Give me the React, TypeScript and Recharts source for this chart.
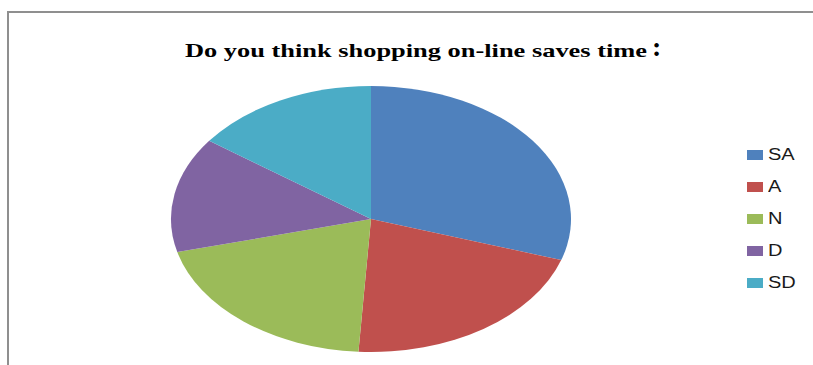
import React from 'react';
import { PieChart, Pie, Cell, Legend } from 'recharts';

const categories = ['SA', 'A', 'N', 'D', 'SD'];
const values = [30, 21, 20, 14, 15];
const colors = ['#4F81BD', '#C0504D', '#9BBB59', '#8064A2', '#4BACC6'];
const title = 'Do you think shopping on-line saves time';

const data = categories.map((name, i) => ({ name, value: values[i] }));

const X_STRETCH = 200 / 133;

const EllipseSector = (props: any) => {
  const { cx, cy, outerRadius, startAngle, endAngle, fill } = props;
  const ry = outerRadius;
  const rx = outerRadius * X_STRETCH;
  const rad = Math.PI / 180;
  const x1 = cx + rx * Math.cos(startAngle * rad);
  const y1 = cy - ry * Math.sin(startAngle * rad);
  const x2 = cx + rx * Math.cos(endAngle * rad);
  const y2 = cy - ry * Math.sin(endAngle * rad);
  const delta = Math.abs(endAngle - startAngle);
  const large = delta > 180 ? 1 : 0;
  const sweep = endAngle < startAngle ? 1 : 0;
  const d = `M${cx},${cy} L${x1},${y1} A${rx},${ry} 0 ${large} ${sweep} ${x2},${y2} Z`;
  return <path d={d} fill={fill} stroke="none" />;
};

const renderLegend = () => (
  <div style={{ fontFamily: 'Liberation Sans, Arial, sans-serif', fontSize: 16, color: '#1a1a1a' }}>
    {categories.map((c, i) => (
      <div key={c} style={{ display: 'flex', alignItems: 'center', height: 32 }}>
        <div style={{ width: 16, height: 10, background: colors[i], marginRight: 5, flex: 'none' }} />
        <span
          style={{
            lineHeight: '16px',
            display: 'inline-block',
            transform: 'scaleX(1.25)',
            transformOrigin: 'left center',
          }}
        >
          {c}
        </span>
      </div>
    ))}
  </div>
);

export default function App() {
  return (
    <div style={{ position: 'absolute', left: 0, top: 0, width: 813, height: 365, background: '#fff', overflow: 'hidden' }}>
      <div
        style={{
          position: 'absolute',
          left: 7,
          top: 11,
          width: 820,
          height: 360,
          borderLeft: '2px solid #8f8f8f',
          borderTop: '2px solid #8f8f8f',
        }}
      />
      <div style={{ position: 'absolute', left: 0, top: 0 }}>
        <PieChart width={813} height={365} margin={{ top: 0, right: 0, bottom: 0, left: 0 }}>
          <text
            x={416}
            y={57}
            textAnchor="middle"
            fontFamily="Liberation Serif, Times New Roman, serif"
            fontWeight="bold"
            fontSize={19}
            fill="#000"
            textLength={462}
            lengthAdjust="spacingAndGlyphs"
          >
            {title}
          </text>
          <text x={652} y={56} fontFamily="Liberation Serif, serif" fontWeight="bold" fontSize={28} fill="#000">
            :
          </text>
          <Pie
            data={data}
            dataKey="value"
            nameKey="name"
            cx={371}
            cy={219}
            outerRadius={133}
            startAngle={90}
            endAngle={-270}
            isAnimationActive={false}
            shape={EllipseSector}
            stroke="none"
          >
            {data.map((d, i) => (
              <Cell key={d.name} fill={colors[i]} />
            ))}
          </Pie>
          <Legend
            layout="vertical"
            align="right"
            verticalAlign="top"
            content={renderLegend}
            wrapperStyle={{ position: 'absolute', left: 747, top: 139, width: 66 }}
          />
        </PieChart>
      </div>
    </div>
  );
}
